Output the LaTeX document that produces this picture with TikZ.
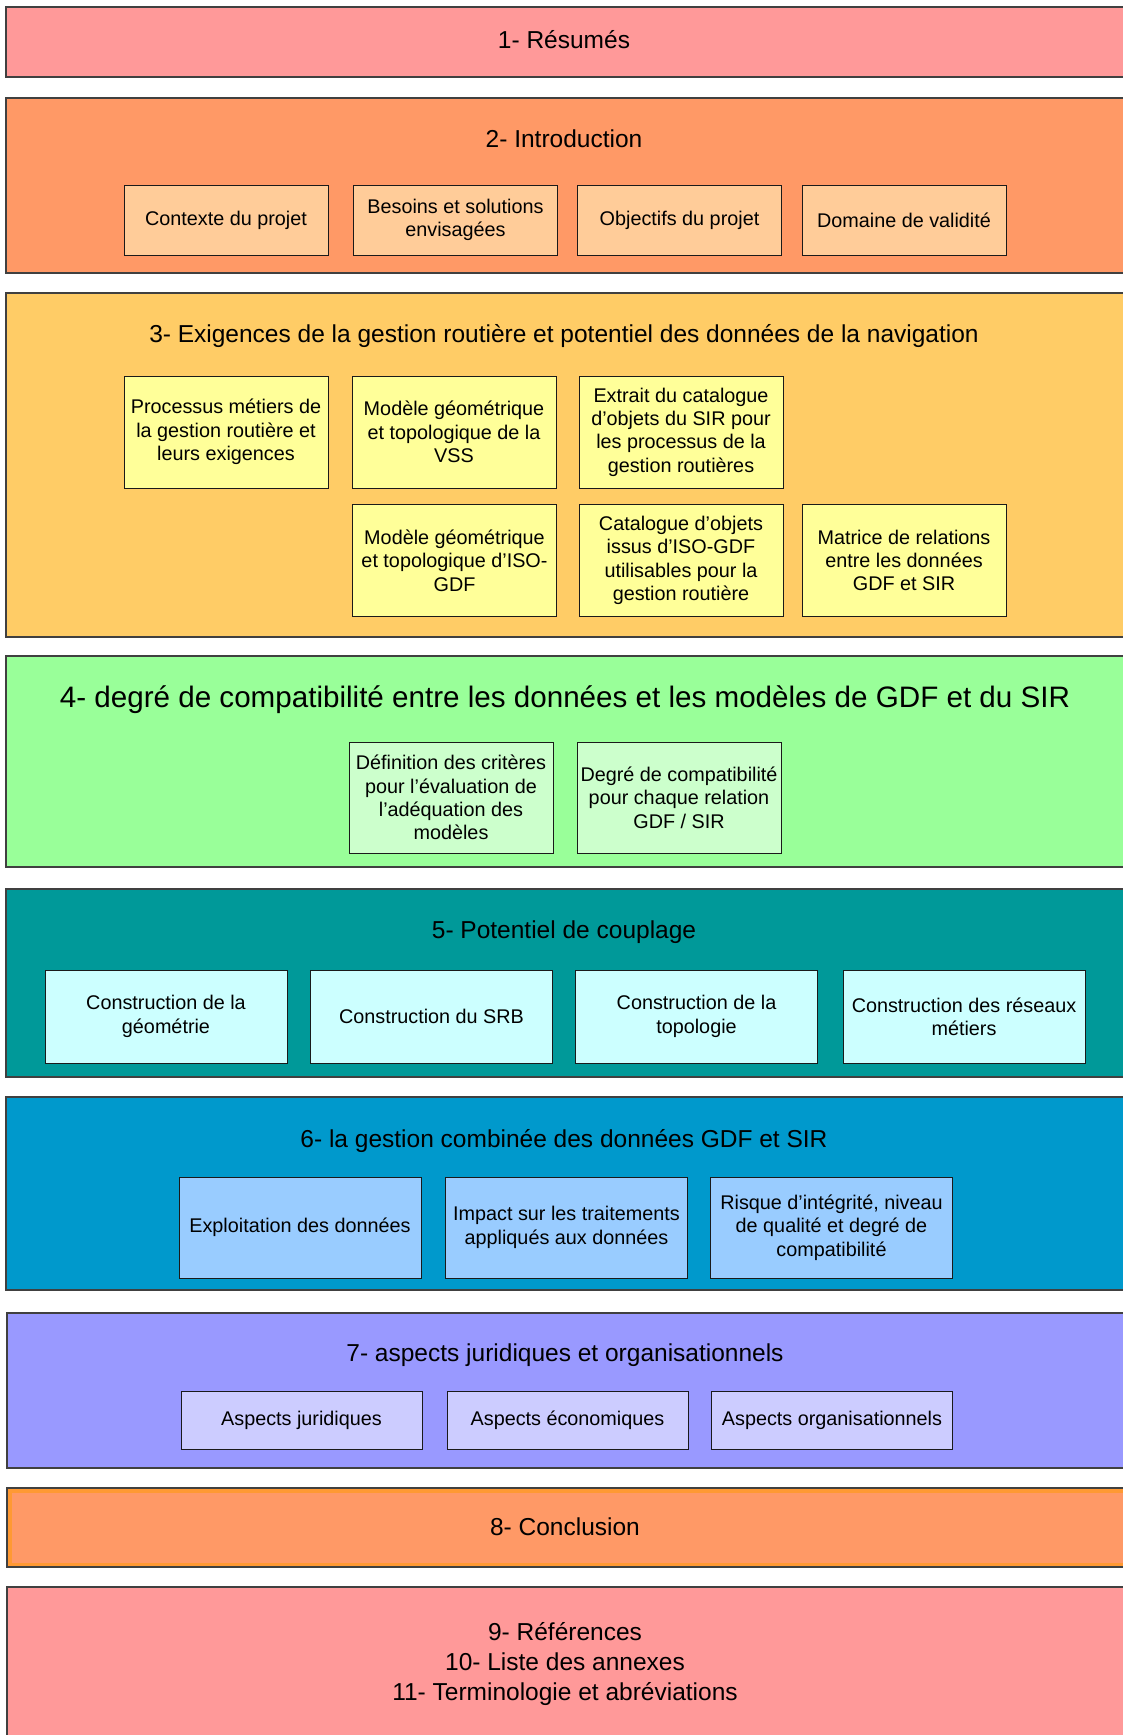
\documentclass[tikz,border=0pt]{standalone}
\usepackage{fontspec}
\setmainfont{Liberation Sans}
\definecolor{secline}{HTML}{404040}
\definecolor{boxline}{HTML}{1A1A1A}
\definecolor{pinkfill}{HTML}{FF9999}
\definecolor{orangefill}{HTML}{FF9966}
\definecolor{orangeedge}{HTML}{FF9933}
\definecolor{peachbox}{HTML}{FFCC99}
\definecolor{goldfill}{HTML}{FFCC66}
\definecolor{yellowbox}{HTML}{FFFF99}
\definecolor{greenfill}{HTML}{99FF99}
\definecolor{greenbox}{HTML}{CCFFCC}
\definecolor{tealfill}{HTML}{009999}
\definecolor{cyanbox}{HTML}{CCFFFF}
\definecolor{bluefill}{HTML}{0099CC}
\definecolor{bluebox}{HTML}{99CCFF}
\definecolor{violetfill}{HTML}{9999FF}
\definecolor{lilacbox}{HTML}{CCCCFF}
\begin{document}
\begin{tikzpicture}[x=1pt,y=-1pt,
  band/.style={draw=secline, line width=1.2pt},
  head/.style={font=\fontsize{24.5}{30}\selectfont, align=center, inner sep=0pt},
  item/.style={draw=boxline, line width=1pt, align=center, inner sep=0pt,
    font=\fontsize{19.8}{23.3}\selectfont},
  boxtwo/.style={item, fill=peachbox, minimum width=204pt, minimum height=70pt},
  boxthree/.style={item, fill=yellowbox, minimum width=204pt, minimum height=112pt},
  boxfour/.style={item, fill=greenbox, minimum width=204pt, minimum height=111pt},
  boxfive/.style={item, fill=cyanbox, minimum width=242pt, minimum height=93pt},
  boxsix/.style={item, fill=bluebox, minimum width=242pt, minimum height=101pt},
  boxseven/.style={item, fill=lilacbox, minimum width=241pt, minimum height=58pt},
]
\path[use as bounding box] (0,0) rectangle (1122,1735);
\fill[white] (0,0) rectangle (1122,1735);

% 1 - summaries
\draw[band, fill=pinkfill] (6,7) rectangle (1130,77);
\node[head] (t1) at (564,40) {1- Résumés};

% 2 - introduction
\draw[band, fill=orangefill] (6,98) rectangle (1130,273);
\node[head] (t2) at (564,139) {2- Introduction};
\node[boxtwo] (b21) at (226,220) {Contexte du projet};
\node[boxtwo] (b22) at (455.5,220) {Besoins et solutions\\envisagées};
\node[boxtwo] (b23) at (679.5,220) {Objectifs du projet};
\node[boxtwo] (b24) at (904,220) {Domaine de validité};

% 3 - road management requirements
\draw[band, fill=goldfill] (6,293) rectangle (1130,637);
\node[head] (t3) at (564,336) {3- Exigences de la gestion routière et potentiel des données de la navigation};
\node[boxthree] (b31) at (226,432) {Processus métiers de\\la gestion routière et\\leurs exigences};
\node[boxthree] (b32) at (454,432) {Modèle géométrique\\et topologique de la\\VSS};
\node[boxthree] (b33) at (681,432) {Extrait du catalogue\\d’objets du SIR pour\\les processus de la\\gestion routières};
\node[boxthree] (b34) at (454.5,560.5) {Modèle géométrique\\et topologique d’ISO-\\GDF};
\node[boxthree] (b35) at (681,560.5) {Catalogue d’objets\\issus d’ISO-GDF\\utilisables pour la\\gestion routière};
\node[boxthree] (b36) at (904,560.5) {Matrice de relations\\entre les données\\GDF et SIR};

% 4 - compatibility
\draw[band, fill=greenfill] (6,656) rectangle (1130,867);
\node[head, font=\fontsize{29.6}{32}\selectfont] (t4) at (565,700) {4- degré de compatibilité entre les données et les modèles de GDF et du SIR};
\node[boxfour] (b41) at (451,797.5) {Définition des critères\\pour l’évaluation de\\l’adéquation des\\modèles};
\node[boxfour] (b42) at (679,797.5) {Degré de compatibilité\\pour chaque relation\\GDF / SIR};

% 5 - coupling
\draw[band, fill=tealfill] (6,889) rectangle (1130,1077);
\node[head] (t5) at (564,932) {5- Potentiel de couplage};
\node[boxfive] (b51) at (166,1016.5) {Construction de la\\géométrie};
\node[boxfive] (b52) at (431.5,1016.5) {Construction du SRB};
\node[boxfive] (b53) at (696.5,1016.5) {Construction de la\\topologie};
\node[boxfive] (b54) at (964,1016.5) {Construction des réseaux\\métiers};

% 6 - combined management
\draw[band, fill=bluefill] (6,1097) rectangle (1130,1290);
\node[head] (t6) at (564,1141) {6- la gestion combinée des données GDF et SIR};
\node[boxsix] (b61) at (300,1227.5) {Exploitation des données};
\node[boxsix] (b62) at (566.5,1227.5) {Impact sur les traitements\\appliqués aux données};
\node[boxsix] (b63) at (831.5,1227.5) {Risque d’intégrité, niveau\\de qualité et degré de\\compatibilité};

% 7 - legal and organisational aspects
\draw[band, fill=violetfill] (7,1313) rectangle (1130,1468);
\node[head] (t7) at (565,1355) {7- aspects juridiques et organisationnels};
\node[boxseven] (b71) at (301.5,1420) {Aspects juridiques};
\node[boxseven] (b72) at (567.5,1420) {Aspects économiques};
\node[boxseven] (b73) at (832,1420) {Aspects organisationnels};

% 8 - conclusion
\fill[orangefill] (7,1488) rectangle (1130,1567);
\draw[orangeedge, line width=4pt] (9.5,1490.5) rectangle (1130,1564.5);
\draw[secline, line width=1.2pt] (7,1488) rectangle (1130,1567);
\node[head] (t8) at (565,1527) {8- Conclusion};

% 9 to 11 - back matter
\draw[band, fill=pinkfill] (7,1587) rectangle (1130,1745);
\node[head] (t9) at (565,1664) {9- Références\\10- Liste des annexes\\11- Terminologie et abréviations};
\end{tikzpicture}
\end{document}
